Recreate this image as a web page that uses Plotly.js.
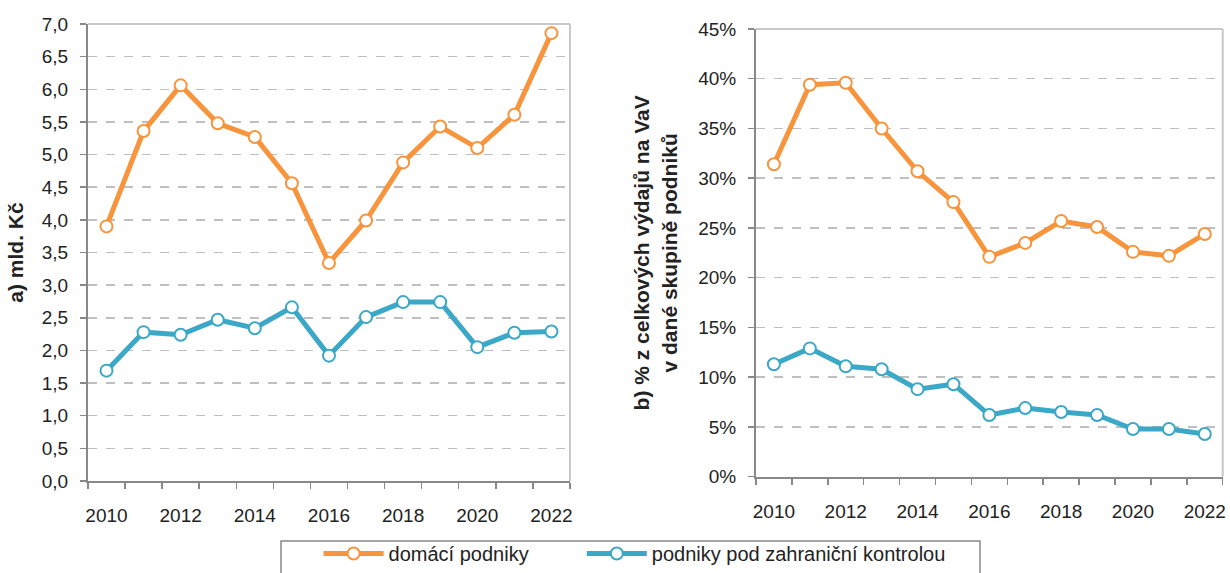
<!DOCTYPE html>
<html>
<head>
<meta charset="utf-8">
<script src="https://cdn.plot.ly/plotly-3.0.1.min.js"></script>
<style>
  body { margin: 0; background: #fff; }
  #plot { width: 1230px; height: 573px; }
</style>
</head>
<body>
<div id="plot"></div>
<script>
// years on the x axis
var years = [2010, 2011, 2012, 2013, 2014, 2015, 2016, 2017, 2018, 2019, 2020, 2021, 2022];

// a) mld. Kč
var domaciKc = [3.90, 5.36, 6.06, 5.48, 5.27, 4.56, 3.34, 3.99, 4.88, 5.43, 5.10, 5.61, 6.86];
var zahranicniKc = [1.69, 2.28, 2.24, 2.47, 2.34, 2.66, 1.92, 2.51, 2.74, 2.74, 2.05, 2.27, 2.29];

// b) % z celkových výdajů na VaV
var domaciPct = [31.4, 39.4, 39.6, 35.0, 30.7, 27.6, 22.1, 23.5, 25.7, 25.1, 22.6, 22.2, 24.4];
var zahranicniPct = [11.3, 12.9, 11.1, 10.8, 8.8, 9.3, 6.2, 6.9, 6.5, 6.2, 4.8, 4.8, 4.3];

var tickYears = [2010, 2012, 2014, 2016, 2018, 2020, 2022];
var betweenTicks = [2009.5, 2010.5, 2011.5, 2012.5, 2013.5, 2014.5, 2015.5,
                    2016.5, 2017.5, 2018.5, 2019.5, 2020.5, 2021.5, 2022.5];

var orange = '#F7943C';
var blue = '#3AA8C6';

function series(y, color, name, xa, ya, showleg, leg) {
  return {
    x: years, y: y, xaxis: xa, yaxis: ya,
    type: 'scatter', mode: 'lines+markers', name: name,
    showlegend: showleg, legend: leg,
    line: {color: color, width: 5},
    marker: {size: 12, color: '#ffffff', line: {color: color, width: 2}}
  };
}

var data = [
  series(domaciKc, orange, 'domácí podniky', 'x', 'y', true, 'legend'),
  series(zahranicniKc, blue, 'podniky pod zahraniční kontrolou', 'x', 'y', true, 'legend2'),
  series(domaciPct, orange, 'domácí podniky', 'x2', 'y2', false, 'legend'),
  series(zahranicniPct, blue, 'podniky pod zahraniční kontrolou', 'x2', 'y2', false, 'legend2')
];

var font = {family: 'Liberation Sans, Arial, sans-serif', size: 19, color: '#222'};

function xAxis(domain, anchor) {
  return {
    domain: domain, anchor: anchor,
    range: [2009.5, 2022.5],
    tickmode: 'array', tickvals: tickYears, ticktext: tickYears.map(String),
    ticks: '', showgrid: false, zeroline: false,
    showline: true, linecolor: '#888', linewidth: 2,
    minor: {tickmode: 'array', tickvals: betweenTicks, ticks: 'outside',
            ticklen: 6, tickcolor: '#888', tickwidth: 1.5, showgrid: false},
    ticklabelstandoff: 16,
    tickfont: font, automargin: false
  };
}

function yAxis(domain, anchor, range, dtick, fmt, suffix, title, standoff) {
  return {
    domain: domain, anchor: anchor, range: range, dtick: dtick,
    tickformat: fmt, ticksuffix: suffix,
    ticks: 'outside', ticklen: 6, tickcolor: '#888', tickwidth: 1.5,
    ticklabelstandoff: 8,
    showline: true, linecolor: '#888', linewidth: 2,
    showgrid: true, gridcolor: '#BFBFBF', gridwidth: 1.5, griddash: 'dash',
    zeroline: false, tickfont: font, automargin: false,
    title: {text: title, font: {family: font.family, size: 21, color: '#222', weight: 'bold'},
            standoff: standoff}
  };
}

function border(xa, ya) {
  return [
    {type: 'line', xref: xa + ' domain', yref: ya + ' domain', x0: 0, x1: 1, y0: 1, y1: 1,
     line: {color: '#C8C8C8', width: 2}},
    {type: 'line', xref: xa + ' domain', yref: ya + ' domain', x0: 1, x1: 1, y0: 0, y1: 1,
     line: {color: '#C8C8C8', width: 2}}
  ];
}

// legend frame, open at the bottom edge of the picture
var legendBox = {type: 'rect', xref: 'paper', yref: 'paper',
  x0: 281 / 1230, x1: 980 / 1230, y0: -0.02, y1: 1 - 541 / 573,
  line: {color: '#888', width: 1.5}, fillcolor: 'rgba(0,0,0,0)'};

var legendFont = {family: font.family, size: 20, color: '#222'};

var layout = {
  width: 1230, height: 573,
  margin: {l: 0, r: 0, t: 0, b: 0},
  paper_bgcolor: '#fff', plot_bgcolor: '#fff',
  separators: ', ',
  font: font,
  xaxis: xAxis([0.0715, 0.4634], 'y'),
  yaxis: yAxis([0.1606, 0.9581], 'x', [0, 7], 0.5, '.1f', '', 'a) mld. Kč', 12),
  xaxis2: xAxis([0.6146, 0.9941], 'y2'),
  yaxis2: yAxis([0.168, 0.9494], 'x2', [0, 45], 5, 'd', '%',
                'b) % z celkových výdajů na VaV<br>v dané skupině podniků', 15),
  shapes: border('x', 'y').concat(border('x2', 'y2'), [legendBox]),
  legend: {
    orientation: 'h', x: 0.259, xanchor: 'left', y: 0, yanchor: 'bottom',
    borderwidth: 0, bgcolor: 'rgba(0,0,0,0)', font: legendFont, itemwidth: 60
  },
  legend2: {
    orientation: 'h', x: 0.473, xanchor: 'left', y: 0, yanchor: 'bottom',
    borderwidth: 0, bgcolor: 'rgba(0,0,0,0)', font: legendFont, itemwidth: 60
  }
};

Plotly.newPlot('plot', data, layout, {displayModeBar: false, staticPlot: true});
</script>
</body>
</html>
